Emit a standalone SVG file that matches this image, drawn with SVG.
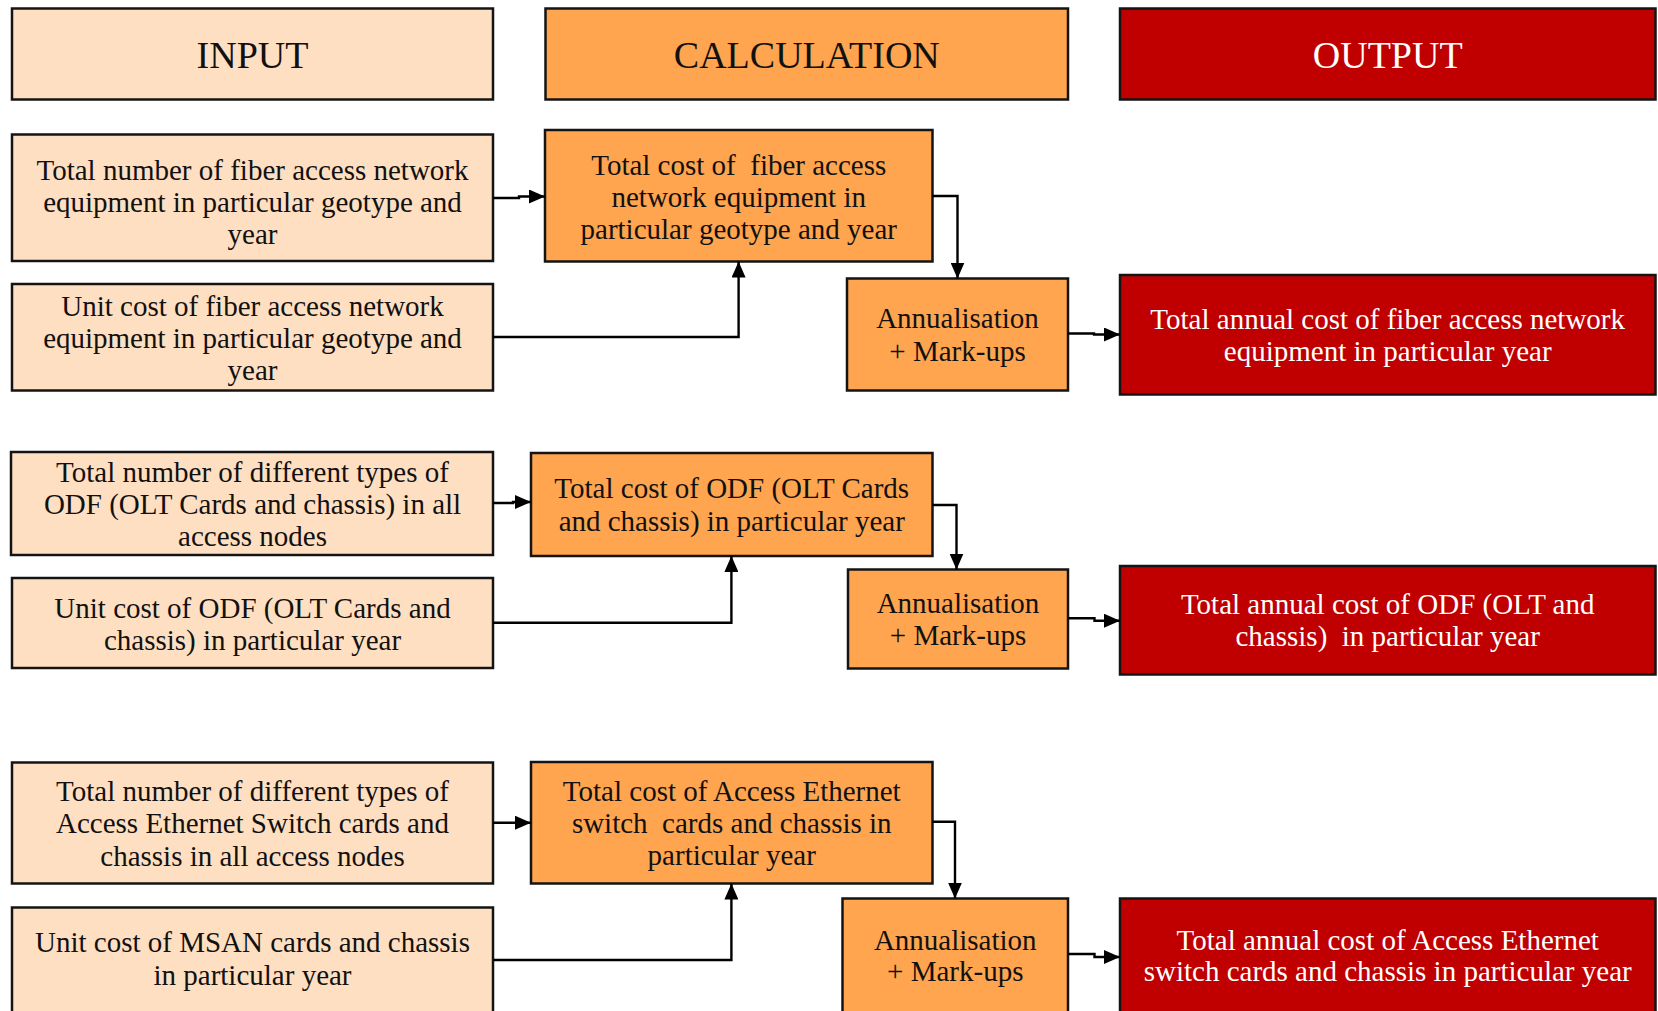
<svg xmlns="http://www.w3.org/2000/svg" width="1658" height="1011" viewBox="0 0 1658 1011">
  <style>
    .box { stroke: #141414; stroke-width: 2.5; }
    .in { fill: #FFDFC1; }
    .calc { fill: #FFA44F; }
    .out { fill: #C00000; }
    text { font-family: "Liberation Serif", "Times New Roman", serif; font-size: 29px; fill: #111; text-anchor: middle; white-space: pre; }
    .hdr { font-size: 38px; }
    .w { fill: #FFFFFF; }
    .conn { fill: none; stroke: #000; stroke-width: 2.4; marker-end: url(#arrow); }
  </style>
  <defs>
    <marker id="arrow" markerUnits="userSpaceOnUse" markerWidth="16" markerHeight="14" refX="16" refY="7" orient="auto">
      <path d="M0,0 L16,7 L0,14 z" fill="#000"/>
    </marker>
  </defs>
  <rect width="1658" height="1011" fill="#FFFFFF"/>

  <!-- column headers -->
  <g id="hdr-input">
    <rect class="box in" x="12" y="8.5" width="481" height="91"/>
    <text class="hdr" x="252.5" y="68">INPUT</text>
  </g>
  <g id="hdr-calculation">
    <rect class="box calc" x="545.5" y="8.5" width="522.5" height="91"/>
    <text class="hdr" x="806.8" y="68">CALCULATION</text>
  </g>
  <g id="hdr-output">
    <rect class="box out" x="1120" y="8.5" width="535.5" height="91"/>
    <text class="hdr w" x="1387.7" y="68">OUTPUT</text>
  </g>

  <!-- block 1: fiber access network equipment -->
  <g id="in-fiber-number">
    <rect class="box in" x="12" y="134.5" width="481" height="126.5"/>
    <text><tspan x="252.5" y="179.5">Total number of fiber access network</tspan><tspan x="252.5" y="211.5">equipment in particular geotype and</tspan><tspan x="252.5" y="243.5">year</tspan></text>
  </g>
  <g id="in-fiber-unitcost">
    <rect class="box in" x="12" y="284" width="481" height="106.5"/>
    <text><tspan x="252.5" y="315.5">Unit cost of fiber access network</tspan><tspan x="252.5" y="347.5">equipment in particular geotype and</tspan><tspan x="252.5" y="379.5">year</tspan></text>
  </g>
  <g id="calc-fiber-total">
    <rect class="box calc" x="545" y="130" width="387.5" height="131.5"/>
    <text><tspan x="738.75" y="174.5">Total cost of  fiber access</tspan><tspan x="738.75" y="206.5">network equipment in</tspan><tspan x="738.75" y="238.5">particular geotype and year</tspan></text>
  </g>
  <g id="calc-fiber-annual">
    <rect class="box calc" x="847" y="278.5" width="221" height="112"/>
    <text><tspan x="957.5" y="328.4">Annualisation</tspan><tspan x="957.5" y="360.6">+ Mark-ups</tspan></text>
  </g>
  <g id="out-fiber">
    <rect class="box out" x="1120" y="275" width="535.5" height="119.5"/>
    <text class="w"><tspan x="1387.7" y="328.6">Total annual cost of fiber access network</tspan><tspan x="1387.7" y="360.9">equipment in particular year</tspan></text>
  </g>

  <!-- block 2: ODF (OLT cards and chassis) -->
  <g id="in-odf-number">
    <rect class="box in" x="11" y="452" width="482" height="103"/>
    <text><tspan x="252.5" y="482">Total number of different types of</tspan><tspan x="252.5" y="514">ODF (OLT Cards and chassis) in all</tspan><tspan x="252.5" y="546">access nodes</tspan></text>
  </g>
  <g id="in-odf-unitcost">
    <rect class="box in" x="12" y="578" width="481" height="90"/>
    <text><tspan x="252.5" y="617.5">Unit cost of ODF (OLT Cards and</tspan><tspan x="252.5" y="649.5">chassis) in particular year</tspan></text>
  </g>
  <g id="calc-odf-total">
    <rect class="box calc" x="531" y="453" width="401.5" height="103"/>
    <text><tspan x="731.75" y="498.4">Total cost of ODF (OLT Cards</tspan><tspan x="731.75" y="530.7">and chassis) in particular year</tspan></text>
  </g>
  <g id="calc-odf-annual">
    <rect class="box calc" x="848" y="569.5" width="220" height="99"/>
    <text><tspan x="958" y="612.9">Annualisation</tspan><tspan x="958" y="645.2">+ Mark-ups</tspan></text>
  </g>
  <g id="out-odf">
    <rect class="box out" x="1120" y="566" width="535.5" height="108.5"/>
    <text class="w"><tspan x="1387.7" y="614.1">Total annual cost of ODF (OLT and</tspan><tspan x="1387.7" y="646.4">chassis)  in particular year</tspan></text>
  </g>

  <!-- block 3: access Ethernet switch cards and chassis -->
  <g id="in-aes-number">
    <rect class="box in" x="12" y="762.5" width="481" height="121"/>
    <text><tspan x="252.5" y="801.2">Total number of different types of</tspan><tspan x="252.5" y="833.3">Access Ethernet Switch cards and</tspan><tspan x="252.5" y="865.5">chassis in all access nodes</tspan></text>
  </g>
  <g id="in-msan-unitcost">
    <rect class="box in" x="12" y="907.5" width="481" height="130"/>
    <text><tspan x="252.5" y="952">Unit cost of MSAN cards and chassis</tspan><tspan x="252.5" y="985">in particular year</tspan></text>
  </g>
  <g id="calc-aes-total">
    <rect class="box calc" x="531" y="762" width="401.5" height="121.5"/>
    <text><tspan x="731.75" y="800.8">Total cost of Access Ethernet</tspan><tspan x="731.75" y="833">switch  cards and chassis in</tspan><tspan x="731.75" y="865.2">particular year</tspan></text>
  </g>
  <g id="calc-aes-annual">
    <rect class="box calc" x="842.5" y="898.5" width="225.5" height="130"/>
    <text><tspan x="955.25" y="949.5">Annualisation</tspan><tspan x="955.25" y="981">+ Mark-ups</tspan></text>
  </g>
  <g id="out-aes">
    <rect class="box out" x="1120" y="898.5" width="535.5" height="130"/>
    <text class="w"><tspan x="1387.7" y="949.5">Total annual cost of Access Ethernet</tspan><tspan x="1387.7" y="980.8">switch cards and chassis in particular year</tspan></text>
  </g>

  <!-- connectors -->
  <g id="connectors">
    <path class="conn" d="M493,198 H519 V196.5 H545"/>
    <path class="conn" d="M932.5,196 H957.5 V278.5"/>
    <path class="conn" d="M493,337 H738.6 V261.5"/>
    <path class="conn" d="M1068,333.5 H1094 V334.5 H1120"/>

    <path class="conn" d="M493,503 H513 V502 H531"/>
    <path class="conn" d="M932.5,505 H956.5 V569.5"/>
    <path class="conn" d="M493,622.7 H731.4 V556"/>
    <path class="conn" d="M1068,618.3 H1094.5 V620.7 H1120"/>

    <path class="conn" d="M493,822.7 H531"/>
    <path class="conn" d="M932.5,821.7 H955 V898.5"/>
    <path class="conn" d="M493,960 H731.4 V883.5"/>
    <path class="conn" d="M1068,954 H1094.5 V957 H1120"/>
  </g>
</svg>
